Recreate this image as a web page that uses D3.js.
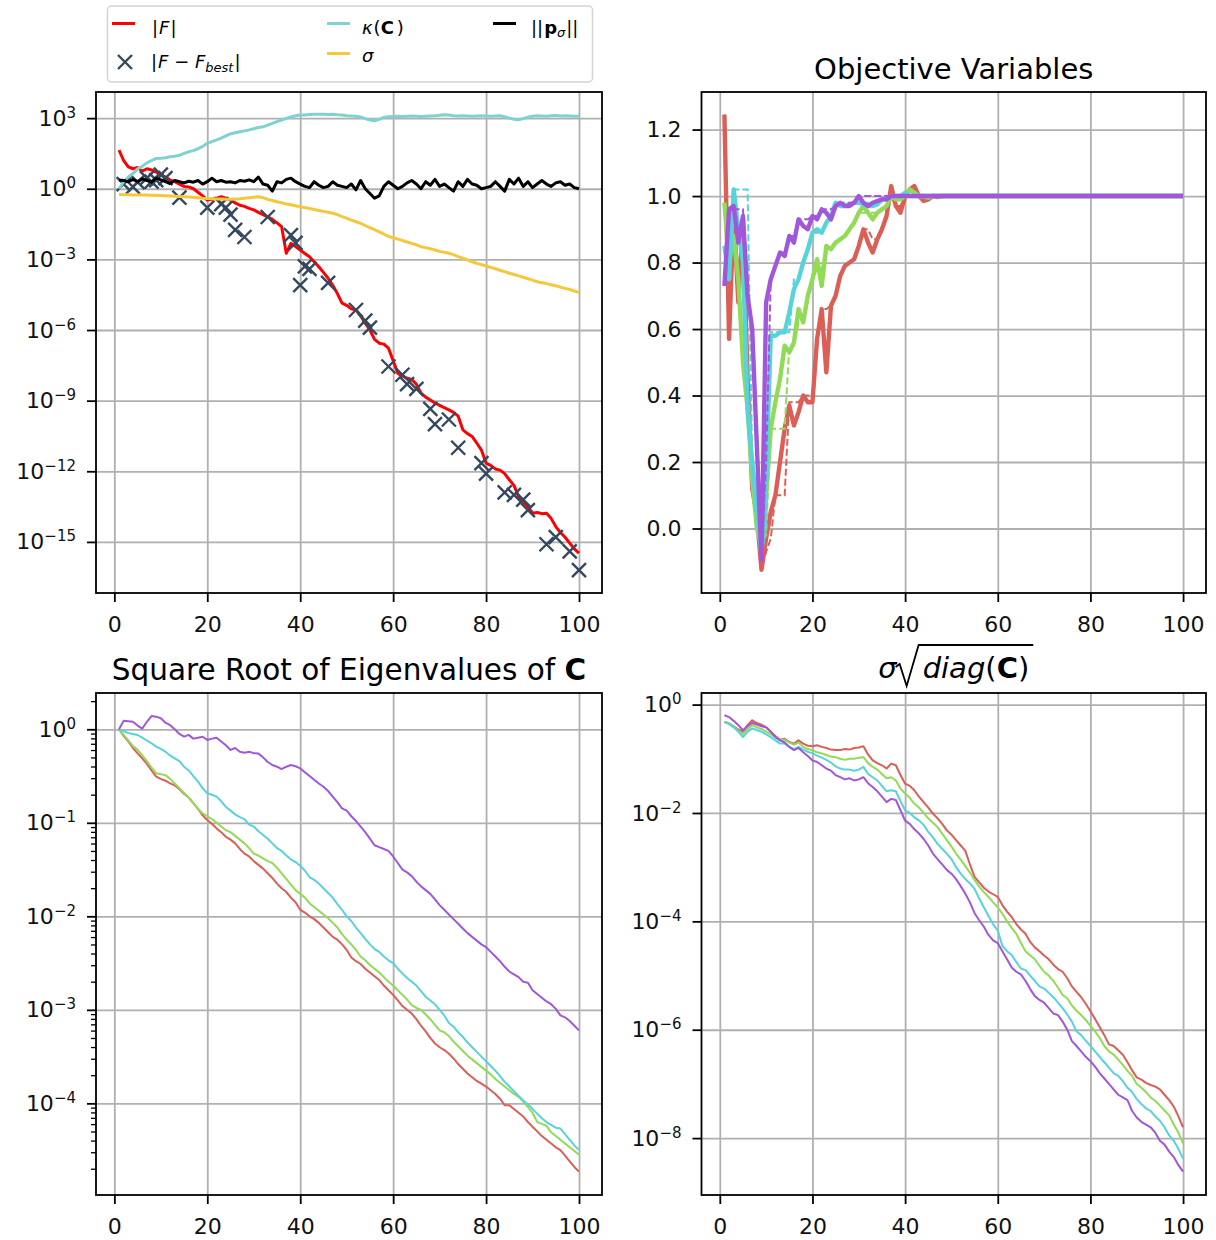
<!DOCTYPE html>
<html>
<head>
<meta charset="utf-8">
<script src="https://cdn.jsdelivr.net/npm/d3@7"></script>
<style>
  body { margin: 0; background: #fff; }
  text { font-family: "DejaVu Sans", sans-serif; }
</style>
</head>
<body>
<script>
// iterations run 1..100, every series below has one value per iteration
// log-scale panels keep log10 of the value
const xTicks = [0, 20, 40, 60, 80, 100];

// --- panel 1: fitness, condition number, step size, evolution path (log10)
const fAbs = [
  1.64, 1.2, 0.93, 0.85, 0.9, 0.75, 0.85, 0.8, 0.7, 0.6,
  0.5, 0.37, 0.3, 0.2, 0.1, 0.08, 0.0, -0.15, -0.3, -0.48,
  -0.45, -0.4, -0.34, -0.4, -0.48, -0.6, -0.7, -0.75, -0.83, -0.9,
  -1.0, -1.1, -1.19, -1.3, -1.45, -1.61, -2.74, -2.32, -2.45, -2.6,
  -2.75, -2.89, -3.1, -3.31, -3.55, -3.8, -4.1, -4.45, -4.86, -4.95,
  -5.1, -5.15, -5.4, -5.71, -6.0, -6.4, -6.56, -6.6, -6.77, -7.3,
  -7.84, -7.95, -8.05, -8.1, -8.3, -8.68, -8.85, -8.97, -9.1, -9.2,
  -9.3, -9.39, -9.5, -9.66, -10.24, -10.4, -10.52, -10.8, -11.1, -11.65,
  -11.75, -11.9, -11.95, -12.1, -12.36, -12.6, -13.07, -13.3, -13.5, -13.78,
  -13.75, -13.8, -13.78, -14.0, -14.35, -14.6, -14.8, -15.05, -15.3, -15.48
];
const bestIter = [2, 4, 5, 7, 8, 9, 10, 11, 14, 20, 23, 24, 25, 26, 28, 33, 38, 39, 40, 41, 42, 46,
  52, 54, 55, 59, 62, 63, 65, 68, 69, 72, 74, 79, 80, 84, 86, 88, 89, 93, 95, 98, 100];
const bestGap = [0.2, 0.08, 0.28, 0.45, 0.3, 0.37, 0.6, 0.45, -0.38, -0.8, -0.65, -0.8, -1.1, -1.75, -2.05,
  -1.2, -1.97, -2.3, -4.09, -3.3, -3.4, -4.0, -5.15, -5.6, -5.9, -7.55, -7.9, -8.3, -8.5,
  -9.35, -10.0, -9.8, -11.0, -11.65, -12.1, -12.9, -13.0, -13.2, -13.65, -15.1, -14.8, -15.4, -16.2];
const kappa = [
  0.0, 0.3, 0.5, 0.65, 0.85, 0.95, 1.1, 1.2, 1.29, 1.3,
  1.32, 1.36, 1.38, 1.42, 1.5, 1.57, 1.62, 1.7, 1.8, 1.93,
  2.0, 2.08, 2.15, 2.25, 2.33, 2.38, 2.42, 2.46, 2.5, 2.55,
  2.6, 2.63, 2.7, 2.78, 2.85, 2.92, 2.99, 3.05, 3.1, 3.13,
  3.13, 3.15, 3.16, 3.17, 3.16, 3.15, 3.16, 3.14, 3.13, 3.1,
  3.09, 3.08, 3.05, 2.98, 2.92, 2.89, 2.95, 3.03, 3.06, 3.07,
  3.08, 3.07, 3.08, 3.09, 3.08, 3.07, 3.08, 3.09, 3.1, 3.12,
  3.14, 3.13, 3.1, 3.09, 3.1, 3.09, 3.08, 3.09, 3.1, 3.09,
  3.08, 3.09, 3.1, 3.06, 3.0, 2.95, 2.93, 2.98, 3.04, 3.08,
  3.1, 3.09, 3.08, 3.1, 3.11, 3.09, 3.1, 3.09, 3.08, 3.08
];
const sigma = [
  -0.24, -0.25, -0.25, -0.26, -0.26, -0.27, -0.27, -0.28, -0.28, -0.29,
  -0.3, -0.31, -0.32, -0.33, -0.34, -0.35, -0.36, -0.38, -0.4, -0.41,
  -0.42, -0.43, -0.44, -0.45, -0.45, -0.43, -0.42, -0.4, -0.38, -0.36,
  -0.34, -0.38, -0.45, -0.5, -0.55, -0.6, -0.65, -0.68, -0.72, -0.76,
  -0.8, -0.84, -0.88, -0.92, -0.96, -1.0, -1.04, -1.1, -1.18, -1.25,
  -1.33, -1.4, -1.47, -1.56, -1.65, -1.74, -1.83, -1.93, -2.02, -2.08,
  -2.14, -2.2, -2.26, -2.32, -2.38, -2.46, -2.5, -2.55, -2.6, -2.66,
  -2.7, -2.74, -2.8, -2.88, -2.95, -3.02, -3.1, -3.17, -3.22, -3.28,
  -3.34, -3.4, -3.46, -3.52, -3.59, -3.64, -3.7, -3.76, -3.82, -3.88,
  -3.95, -3.99, -4.03, -4.08, -4.12, -4.18, -4.23, -4.28, -4.34, -4.4
];
const pSigma = [
  0.37, 0.35, 0.3, 0.4, 0.3, 0.42, 0.35, 0.28, 0.45, 0.38,
  0.3, 0.22, 0.35, 0.3, 0.25, 0.32, 0.28, 0.35, 0.2, 0.3,
  0.45, 0.3, 0.35, 0.28, 0.3, 0.25, 0.35, 0.32, 0.38, 0.3,
  0.5, 0.2, 0.15, -0.1, 0.3, 0.25, 0.4, 0.45, 0.3, 0.2,
  0.1, 0.05, 0.3, 0.15, 0.05, 0.1, 0.3, 0.15, 0.1, 0.05,
  0.2, -0.05, 0.35, 0.0, -0.2, -0.4, -0.3, 0.1, 0.3, 0.15,
  0.0, 0.1, 0.25, 0.35, 0.2, 0.0, 0.3, 0.15, 0.4, 0.1,
  0.2, 0.05, -0.1, 0.3, 0.1, 0.4, 0.2, 0.15, 0.0, 0.05,
  0.1, 0.3, 0.1, -0.1, 0.4, 0.2, 0.45, 0.1, 0.3, 0.05,
  0.2, 0.35, 0.2, 0.1, 0.25, 0.3, 0.15, 0.2, 0.05, 0.0
];

// --- panel 2: objective variables (linear), solid = mean, dashed = best
const settled = [
  1, 1, 1, 1, 1, 1, 1, 1, 1, 1, 1, 1, 1, 1, 1, 1, 1, 1, 1, 1, 1, 1, 1, 1, 1,
  1, 1, 1, 1, 1, 1, 1, 1, 1, 1, 1, 1, 1, 1, 1, 1, 1, 1, 1, 1, 1, 1, 1, 1, 1
];
const objR = [
  1.245, 0.57, 0.95, 0.68, 0.93, 0.45, 0.12, 0.04, -0.124, -0.03,
  0.05, 0.1, 0.2, 0.3, 0.37, 0.31, 0.35, 0.4, 0.38, 0.38,
  0.57, 0.66, 0.47, 0.67, 0.7, 0.76, 0.79, 0.8, 0.81, 0.85,
  0.9, 0.86, 0.83, 0.87, 0.9, 0.94, 1.03, 0.97, 0.95, 1.0,
  1.02, 1.03, 1.0, 0.985, 0.99, 1.0, 0.997, 1.0, 1.0, 1.0
].concat(settled);
const objG = [
  0.98, 0.8, 0.88, 0.75, 0.5, 0.36, 0.15, 0.0, -0.044, 0.1,
  0.3, 0.38, 0.45, 0.55, 0.53, 0.56, 0.66, 0.62, 0.7, 0.75,
  0.81, 0.73, 0.85, 0.84, 0.86, 0.87, 0.88, 0.9, 0.92, 0.95,
  0.97, 0.95, 0.93, 0.95, 0.96, 0.97, 1.0, 0.99, 0.99, 1.0,
  1.02, 1.01, 1.0, 1.0, 0.995, 1.0, 1.0, 1.0, 1.0, 1.0
].concat(settled);
const objC = [
  0.85, 0.75, 1.02, 0.9, 0.8, 0.36, 0.2, 0.05, -0.08, 0.15,
  0.58, 0.58, 0.59, 0.59, 0.65, 0.72, 0.75, 0.8, 0.84, 0.89,
  0.9, 0.89, 0.92, 0.94, 0.98, 0.97, 0.97, 0.975, 0.98, 0.98,
  0.975, 0.97, 0.97, 0.975, 0.99, 0.99, 1.0, 1.0, 1.0, 1.01,
  1.0, 1.0, 1.0, 1.0, 1.0, 1.0, 1.0, 1.0, 1.0, 1.0
].concat(settled);
const objP = [
  0.73, 0.96, 0.97, 0.86, 0.94, 0.7, 0.6, 0.25, -0.094, 0.68,
  0.75, 0.79, 0.83, 0.82, 0.88, 0.86, 0.93, 0.91, 0.9, 0.94,
  0.93, 0.96, 0.95, 0.93, 0.97, 0.98, 0.97, 0.97, 0.98, 1.0,
  0.98, 0.97, 0.98, 0.985, 0.99, 0.99, 1.0, 1.0, 1.0, 1.0,
  1.0, 1.0, 1.0, 1.0, 1.0, 1.0, 1.0, 1.0, 1.0, 1.0
].concat(settled);
const bestR = [
  1.245, 0.57, 0.95, 0.68, 0.93, 0.45, 0.12, 0.04, -0.124, -0.07,
  -0.03, 0.1, 0.1, 0.1, 0.38, 0.38, 0.38, 0.4, 0.4, 0.4,
  0.57, 0.66, 0.66, 0.67, 0.7, 0.76, 0.79, 0.8, 0.81, 0.85,
  0.9, 0.9, 0.87, 0.87, 0.9, 0.94, 1.0, 0.97, 0.97, 1.0,
  1.0, 1.0, 1.0, 1.0, 1.0, 1.0, 1.0, 1.0, 1.0, 1.0
].concat(settled);
const bestG = [
  0.98, 0.8, 0.88, 0.75, 0.5, 0.36, 0.15, 0.0, -0.044, -0.02,
  0.3, 0.3, 0.3, 0.3, 0.55, 0.55, 0.62, 0.62, 0.7, 0.75,
  0.78, 0.78, 0.85, 0.84, 0.86, 0.87, 0.88, 0.9, 0.92, 0.95,
  0.95, 0.95, 0.95, 0.95, 0.96, 0.97, 1.0, 0.99, 0.99, 1.0,
  1.0, 1.0, 1.0, 1.0, 1.0, 1.0, 1.0, 1.0, 1.0, 1.0
].concat(settled);
const bestC = [
  0.85, 0.85, 1.02, 1.02, 1.02, 1.02, 0.2, 0.05, -0.08, 0.0,
  0.59, 0.59, 0.59, 0.59, 0.59, 0.75, 0.75, 0.8, 0.84, 0.89,
  0.89, 0.89, 0.92, 0.94, 0.98, 0.97, 0.97, 0.975, 0.98, 0.98,
  0.98, 0.98, 0.97, 0.975, 0.99, 0.99, 1.0, 1.0, 1.0, 1.0,
  1.0, 1.0, 1.0, 1.0, 1.0, 1.0, 1.0, 1.0, 1.0, 1.0
].concat(settled);
const bestP = [
  0.73, 0.96, 0.96, 0.96, 0.96, 0.7, 0.6, 0.25, -0.094, 0.2,
  0.75, 0.79, 0.83, 0.83, 0.88, 0.88, 0.93, 0.93, 0.93, 0.94,
  0.94, 0.96, 0.96, 0.96, 0.97, 0.98, 0.98, 0.98, 0.98, 1.0,
  1.0, 1.0, 1.0, 1.0, 1.0, 1.0, 1.0, 1.0, 1.0, 1.0,
  1.0, 1.0, 1.0, 1.0, 1.0, 1.0, 1.0, 1.0, 1.0, 1.0
].concat(settled);

// --- panel 3: square root of eigenvalues of C (log10)
const eigR = [
  0, -0.07, -0.13, -0.2, -0.257, -0.31, -0.37, -0.44, -0.507, -0.53,
  -0.55, -0.578, -0.6, -0.64, -0.69, -0.73, -0.79, -0.85, -0.92, -0.97,
  -1.01, -1.06, -1.1, -1.15, -1.18, -1.22, -1.28, -1.33, -1.36, -1.41,
  -1.45, -1.49, -1.54, -1.59, -1.65, -1.7, -1.74, -1.8, -1.85, -1.93,
  -1.96, -2.0, -2.03, -2.07, -2.12, -2.17, -2.22, -2.25, -2.3, -2.36,
  -2.44, -2.48, -2.51, -2.56, -2.6, -2.64, -2.68, -2.74, -2.79, -2.84,
  -2.9, -2.96, -3.0, -3.04, -3.1, -3.17, -3.23, -3.3, -3.36, -3.4,
  -3.43, -3.47, -3.52, -3.58, -3.63, -3.68, -3.72, -3.76, -3.79, -3.82,
  -3.86, -3.9, -3.95, -4.02, -4.02, -4.06, -4.1, -4.14, -4.2, -4.25,
  -4.3, -4.35, -4.39, -4.43, -4.47, -4.5, -4.56, -4.62, -4.68, -4.73
];
const eigG = [
  0, -0.06, -0.12, -0.18, -0.22, -0.28, -0.34, -0.41, -0.47, -0.48,
  -0.49, -0.53, -0.58, -0.63, -0.68, -0.73, -0.79, -0.85, -0.9, -0.93,
  -0.96, -1.0, -1.04, -1.08, -1.1, -1.14, -1.18, -1.22, -1.27, -1.33,
  -1.35, -1.38, -1.41, -1.43, -1.48, -1.54, -1.6, -1.66, -1.72, -1.76,
  -1.8, -1.86, -1.9, -1.94, -1.98, -2.02, -2.07, -2.12, -2.19, -2.25,
  -2.3, -2.36, -2.43, -2.47, -2.52, -2.56, -2.6, -2.65, -2.7, -2.74,
  -2.79, -2.84, -2.89, -2.95, -2.98, -3.0, -3.05, -3.1, -3.16, -3.22,
  -3.24, -3.28, -3.34, -3.39, -3.44, -3.49, -3.53, -3.57, -3.61, -3.65,
  -3.69, -3.74, -3.78, -3.82, -3.86, -3.9, -3.93, -3.98, -4.04, -4.1,
  -4.2, -4.22, -4.24, -4.31, -4.35, -4.39, -4.43, -4.47, -4.51, -4.55
];
const eigC = [
  0, -0.02, -0.04, -0.05, -0.061, -0.09, -0.12, -0.15, -0.186, -0.21,
  -0.24, -0.28, -0.31, -0.34, -0.4, -0.44, -0.5, -0.56, -0.63, -0.684,
  -0.7, -0.72, -0.77, -0.83, -0.87, -0.91, -0.94, -0.96, -1.02, -1.04,
  -1.09, -1.13, -1.17, -1.22, -1.27, -1.3, -1.35, -1.39, -1.42, -1.46,
  -1.51, -1.58, -1.61, -1.65, -1.7, -1.75, -1.8, -1.87, -1.93, -2.0,
  -2.05, -2.12, -2.18, -2.24, -2.3, -2.35, -2.38, -2.43, -2.47, -2.5,
  -2.56, -2.61, -2.66, -2.7, -2.74, -2.8, -2.86, -2.9, -2.94, -3.0,
  -3.06, -3.14, -3.18, -3.24, -3.29, -3.35, -3.4, -3.45, -3.5, -3.55,
  -3.6, -3.65, -3.71, -3.77, -3.82, -3.87, -3.92, -3.97, -4.01, -4.06,
  -4.11, -4.16, -4.2, -4.23, -4.26, -4.27, -4.33, -4.39, -4.45, -4.5
];
const eigP = [
  0, 0.09, 0.085, 0.08, 0.04, 0.007, 0.08, 0.142, 0.135, 0.118,
  0.07, 0.044, 0.0, -0.05, -0.079, -0.06, -0.1, -0.09, -0.08, -0.114,
  -0.1, -0.09, -0.13, -0.17, -0.221, -0.2, -0.24, -0.25, -0.24, -0.255,
  -0.26, -0.3, -0.35, -0.382, -0.4, -0.425, -0.4, -0.382, -0.395, -0.418,
  -0.46, -0.5, -0.54, -0.58, -0.614, -0.66, -0.72, -0.78, -0.845, -0.87,
  -0.93, -0.98, -1.04, -1.1, -1.17, -1.24, -1.26, -1.28, -1.3, -1.36,
  -1.43, -1.5, -1.53, -1.57, -1.63, -1.68, -1.72, -1.76, -1.82, -1.88,
  -1.93, -1.98, -2.03, -2.08, -2.13, -2.18, -2.22, -2.26, -2.3, -2.33,
  -2.38, -2.43, -2.48, -2.54, -2.59, -2.62, -2.65, -2.7, -2.71, -2.79,
  -2.83, -2.87, -2.91, -2.94, -2.99, -3.06, -3.08, -3.12, -3.17, -3.22
];

// --- panel 4: sigma * sqrt(diag(C)) (log10)
const stdR = [
  -0.32, -0.35, -0.4, -0.46, -0.5, -0.38, -0.29, -0.34, -0.37, -0.42,
  -0.5, -0.58, -0.65, -0.63, -0.69, -0.72, -0.66, -0.72, -0.76, -0.77,
  -0.75, -0.78, -0.8, -0.83, -0.84, -0.84, -0.82, -0.83, -0.8, -0.79,
  -0.77, -0.92, -1.03, -1.08, -1.12, -1.18, -1.09, -1.12, -1.3, -1.46,
  -1.5, -1.58, -1.7, -1.8, -1.9, -2.01, -2.1, -2.2, -2.32, -2.4,
  -2.5, -2.6, -2.7, -2.95, -3.18, -3.28, -3.38, -3.45, -3.5, -3.55,
  -3.7, -3.82, -3.92, -4.05, -4.15, -4.23, -4.38, -4.48, -4.55, -4.63,
  -4.7, -4.8, -4.88, -4.93, -5.05, -5.2, -5.3, -5.4, -5.52, -5.66,
  -5.8, -5.95, -6.1, -6.27, -6.3, -6.38, -6.46, -6.6, -6.75, -6.88,
  -6.92, -6.98, -7.02, -7.05, -7.1, -7.2, -7.3, -7.42, -7.6, -7.8
];
const stdG = [
  -0.32, -0.34, -0.4, -0.48, -0.54, -0.45, -0.38, -0.42, -0.45, -0.5,
  -0.55, -0.6, -0.66, -0.65, -0.7, -0.74, -0.7, -0.78, -0.82, -0.84,
  -0.88, -0.9, -0.93, -0.96, -0.97, -1.0, -1.02, -1.0, -1.0, -0.98,
  -0.97, -1.08, -1.15, -1.2, -1.28, -1.36, -1.34, -1.4, -1.55, -1.64,
  -1.72, -1.83, -1.9, -2.0, -2.1, -2.18, -2.26, -2.38, -2.5, -2.62,
  -2.75, -2.86, -2.98, -3.1, -3.24, -3.36, -3.46, -3.55, -3.65, -3.74,
  -3.86, -4.0, -4.12, -4.23, -4.4, -4.55, -4.63, -4.7, -4.82, -4.93,
  -5.0, -5.1, -5.22, -5.36, -5.42, -5.55, -5.65, -5.73, -5.82, -5.93,
  -6.03, -6.15, -6.3, -6.4, -6.46, -6.55, -6.65, -6.76, -6.85, -7.0,
  -7.07, -7.15, -7.25, -7.31, -7.4, -7.49, -7.58, -7.75, -7.9, -8.1
];
const stdC = [
  -0.32, -0.36, -0.42, -0.5, -0.6, -0.5, -0.44, -0.47, -0.5, -0.55,
  -0.6, -0.66, -0.72, -0.72, -0.78, -0.82, -0.78, -0.83, -0.87, -0.9,
  -0.94, -0.98, -1.02, -1.07, -1.14, -1.18, -1.2, -1.2, -1.22, -1.2,
  -1.15, -1.28, -1.34, -1.4, -1.5, -1.6, -1.58, -1.6, -1.78, -1.95,
  -2.0, -2.08, -2.14, -2.22, -2.35, -2.45, -2.57, -2.66, -2.75, -2.85,
  -3.0, -3.12, -3.22, -3.3, -3.4, -3.58, -3.74, -3.9, -4.05, -4.17,
  -4.45, -4.55, -4.62, -4.75, -4.87, -4.9, -5.0, -5.1, -5.2, -5.24,
  -5.32, -5.4, -5.5, -5.6, -5.72, -5.85, -6.03, -6.1, -6.2, -6.3,
  -6.4, -6.5, -6.6, -6.7, -6.8, -6.85, -6.95, -7.07, -7.15, -7.28,
  -7.37, -7.45, -7.5, -7.6, -7.68, -7.8, -7.95, -8.05, -8.2, -8.38
];
const stdP = [
  -0.197, -0.23, -0.3, -0.38, -0.474, -0.4, -0.34, -0.37, -0.4, -0.42,
  -0.5, -0.6, -0.66, -0.7, -0.78, -0.84, -0.8, -0.88, -0.95, -1.03,
  -1.06, -1.12, -1.18, -1.22, -1.3, -1.34, -1.38, -1.36, -1.4, -1.38,
  -1.34, -1.45, -1.52, -1.6, -1.7, -1.8, -1.74, -1.76, -1.95, -2.14,
  -2.2, -2.3, -2.38, -2.48, -2.6, -2.75, -2.85, -2.95, -3.05, -3.12,
  -3.22, -3.35, -3.49, -3.65, -3.85, -3.98, -4.1, -4.25, -4.35, -4.4,
  -4.55, -4.7, -4.85, -4.93, -4.98, -5.1, -5.25, -5.38, -5.45, -5.5,
  -5.6, -5.7, -5.73, -5.85, -6.0, -6.21, -6.3, -6.4, -6.5, -6.58,
  -6.68, -6.8, -6.9, -7.0, -7.1, -7.2, -7.25, -7.3, -7.5, -7.62,
  -7.7, -7.75, -7.8, -7.9, -8.05, -8.12, -8.25, -8.35, -8.5, -8.62
];

const dimColors = ["#db5f57", "#91db57", "#57d3db", "#a157db"];

const svg = d3.select("body").append("svg")
    .attr("width", 1216)
    .attr("height", 1240);

svg.append("rect").attr("width", 1216).attr("height", 1240).attr("fill", "#fff");

let clipCount = 0;

function panel(box, y, yTicks, fmt) {
    const x = d3.scaleLinear().domain([-3.95, 104.95]).range([box.left, box.right]);
    const w = box.right - box.left, h = box.bottom - box.top;
    const g = svg.append("g");

    const grid = g.append("g");
    grid.append("g")
        .attr("transform", "translate(0," + box.bottom + ")")
        .call(d3.axisBottom(x).tickValues(xTicks).tickSize(-h).tickFormat(""));
    grid.append("g")
        .attr("transform", "translate(" + box.left + ",0)")
        .call(d3.axisLeft(y).tickValues(yTicks).tickSize(-w).tickFormat(""));
    grid.selectAll(".domain").remove();
    grid.selectAll("line").attr("stroke", "#b0b0b0").attr("stroke-width", 1.8);

    const id = "clip" + (clipCount++);
    svg.append("clipPath").attr("id", id)
        .append("rect")
        .attr("x", box.left).attr("y", box.top)
        .attr("width", w).attr("height", h);

    const plot = g.append("g").attr("clip-path", "url(#" + id + ")");
    return { x, y, g, plot, box, yTicks, fmt };
}

function frame(p, minor) {
    const { x, y, g, box } = p;
    const xa = g.append("g")
        .attr("transform", "translate(0," + box.bottom + ")")
        .call(d3.axisBottom(x).tickValues(xTicks).tickSize(9).tickPadding(14));
    const ya = g.append("g")
        .attr("transform", "translate(" + box.left + ",0)")
        .call(d3.axisLeft(y).tickValues(p.yTicks).tickSize(9).tickPadding(11).tickFormat(""));
    ya.selectAll(".tick text").each(p.fmt);
    const axes = [xa, ya];
    if (minor) {
        const ma = g.append("g")
            .attr("transform", "translate(" + box.left + ",0)")
            .call(d3.axisLeft(y).tickValues(minor).tickSize(5).tickFormat(""));
        ma.selectAll("line").attr("stroke-width", 1.3);
        ma.select(".domain").remove();
    }
    axes.forEach(a => {
        a.select(".domain").remove();
        a.attr("font-size", 22).attr("font-family", "DejaVu Sans");
        a.selectAll(".tick line").attr("stroke-width", 1.8);
        a.selectAll("text").attr("fill", "#111");
    });
    g.append("rect")
        .attr("x", box.left).attr("y", box.top)
        .attr("width", box.right - box.left).attr("height", box.bottom - box.top)
        .attr("fill", "none").attr("stroke", "#000").attr("stroke-width", 1.8);
}

function logLabel(d) {
    const e = Math.round(Math.log10(d));
    const t = d3.select(this).text("");
    t.append("tspan").text("10");
    t.append("tspan").attr("dy", -8).attr("font-size", 15).text(e < 0 ? "\u2212" + (-e) : String(e));
}

function decLabel(d) {
    d3.select(this).text(d3.format(".1f")(d));
}

function logLine(p, vals, color, width) {
    p.plot.append("path")
        .datum(vals)
        .attr("fill", "none")
        .attr("stroke", color)
        .attr("stroke-width", width)
        .attr("stroke-linejoin", "round")
        .attr("d", d3.line().x((d, i) => p.x(i + 1)).y(d => p.y(Math.pow(10, d))));
}

// ---------- panel 1
const box1 = { left: 96, right: 602, top: 92, bottom: 593 };
const y1 = d3.scaleLog().domain([Math.pow(10, -17.17), Math.pow(10, 4.11)]).range([box1.bottom, box1.top]);
const p1 = panel(box1, y1, [1e3, 1, 1e-3, 1e-6, 1e-9, 1e-12, 1e-15], logLabel);

logLine(p1, fAbs, "#ff0000", 3);
p1.plot.selectAll(".cross")
    .data(bestIter.map((it, i) => [it, bestGap[i]]))
    .enter().append("path")
    .attr("class", "cross")
    .attr("transform", d => "translate(" + p1.x(d[0]) + "," + p1.y(Math.pow(10, d[1])) + ")")
    .attr("d", "M-7,-7L7,7M-7,7L7,-7")
    .attr("stroke", "#34495e")
    .attr("stroke-width", 2.4);
logLine(p1, kappa, "#80d2d2", 3);
logLine(p1, sigma, "#f5c83c", 3);
logLine(p1, pSigma, "#000000", 3);
frame(p1);

// legend
const legend = svg.append("g").attr("font-size", 18);
legend.append("rect")
    .attr("x", 107.5).attr("y", 6)
    .attr("width", 485).attr("height", 76)
    .attr("rx", 4)
    .attr("fill", "#fff").attr("fill-opacity", 0.8)
    .attr("stroke", "#d4d4d4").attr("stroke-width", 1.5);

function legLine(x, y, color) {
    legend.append("line")
        .attr("x1", x).attr("x2", x + 23)
        .attr("y1", y).attr("y2", y)
        .attr("stroke", color).attr("stroke-width", 3);
}
legLine(112, 23.5, "#ff0000");
legLine(327, 23.5, "#80d2d2");
legLine(327, 53.5, "#f5c83c");
legLine(493, 23.5, "#000000");
legend.append("path")
    .attr("d", "M118,55L132,69M118,69L132,55")
    .attr("stroke", "#34495e").attr("stroke-width", 2.4);

let lt = legend.append("text").attr("x", 152).attr("y", 34);
lt.append("tspan").text("|");
lt.append("tspan").attr("dx", 1).attr("font-style", "italic").text("F");
lt.append("tspan").attr("dx", 1).text("|");

lt = legend.append("text").attr("x", 151).attr("y", 68);
lt.append("tspan").text("|");
lt.append("tspan").attr("dx", 1).attr("font-style", "italic").text("F");
lt.append("tspan").text(" \u2212 ");
lt.append("tspan").attr("font-style", "italic").text("F");
lt.append("tspan").attr("font-style", "italic").attr("font-size", 13).attr("dy", 4).text("best");
lt.append("tspan").attr("dx", 1).attr("dy", -4).text("|");

lt = legend.append("text").attr("x", 362).attr("y", 34);
lt.append("tspan").attr("font-style", "italic").text("\u03ba");
lt.append("tspan").attr("dx", 1).text("(");
lt.append("tspan").attr("font-weight", "bold").text("C");
lt.append("tspan").attr("dx", 3).text(")");

legend.append("text").attr("x", 362).attr("y", 62).attr("font-style", "italic").text("\u03c3");

lt = legend.append("text").attr("x", 531).attr("y", 34);
lt.append("tspan").text("||");
lt.append("tspan").attr("dx", 1).attr("font-weight", "bold").text("p");
lt.append("tspan").attr("font-style", "italic").attr("font-size", 13).attr("dy", 3).text("\u03c3");
lt.append("tspan").attr("dx", 1).attr("dy", -3).text("||");

// ---------- panel 2
const box2 = { left: 701.5, right: 1206, top: 92, bottom: 593 };
const y2 = d3.scaleLinear().domain([-0.194, 1.313]).range([box2.bottom, box2.top]);
const p2 = panel(box2, y2, [0, 0.2, 0.4, 0.6, 0.8, 1.0, 1.2], decLabel);
const objMean = [objR, objG, objC, objP];
const objBest = [bestR, bestG, bestC, bestP];
const linLine = d3.line().x((d, i) => p2.x(i + 1)).y(d => p2.y(d));
objMean.forEach((vals, k) => {
    p2.plot.append("path").datum(vals)
        .attr("fill", "none").attr("stroke", dimColors[k])
        .attr("stroke-width", 4.4).attr("stroke-linejoin", "round")
        .attr("d", linLine);
    p2.plot.append("path").datum(objBest[k])
        .attr("fill", "none").attr("stroke", dimColors[k])
        .attr("stroke-width", 2).attr("stroke-dasharray", "7,3")
        .attr("d", linLine);
});
frame(p2);
svg.append("text")
    .attr("x", (box2.left + box2.right) / 2).attr("y", 79)
    .attr("text-anchor", "middle").attr("font-size", 29)
    .text("Objective Variables");

// ---------- panel 3
const box3 = { left: 96, right: 602, top: 693, bottom: 1195 };
const y3 = d3.scaleLog().domain([Math.pow(10, -4.98), Math.pow(10, 0.388)]).range([box3.bottom, box3.top]);
const p3 = panel(box3, y3, [1, 1e-1, 1e-2, 1e-3, 1e-4], logLabel);
[eigR, eigG, eigC, eigP].forEach((vals, k) => logLine(p3, vals, dimColors[k], 2));
const minor3 = [];
[-5, -4, -3, -2, -1, 0].forEach(e => {
    for (let m = 2; m <= 9; m++) {
        const v = m * Math.pow(10, e);
        if (v > y3.domain()[0] && v < y3.domain()[1]) minor3.push(v);
    }
});
frame(p3, minor3);
lt = svg.append("text")
    .attr("x", (box3.left + box3.right) / 2).attr("y", 680)
    .attr("text-anchor", "middle").attr("font-size", 29.5);
lt.append("tspan").text("Square Root of Eigenvalues of ");
lt.append("tspan").attr("font-weight", "bold").text("C");

// ---------- panel 4
const box4 = { left: 701.5, right: 1206, top: 693, bottom: 1195 };
const y4 = d3.scaleLog().domain([Math.pow(10, -9.05), Math.pow(10, 0.214)]).range([box4.bottom, box4.top]);
const p4 = panel(box4, y4, [1, 1e-2, 1e-4, 1e-6, 1e-8], logLabel);
[stdR, stdG, stdC, stdP].forEach((vals, k) => logLine(p4, vals, dimColors[k], 2));
frame(p4);

const t4 = svg.append("text")
    .attr("x", (box4.left + box4.right) / 2).attr("y", 678)
    .attr("text-anchor", "middle").attr("font-size", 29);
t4.append("tspan").attr("font-style", "italic").text("\u03c3");
t4.append("tspan").attr("dx", 26).attr("font-style", "italic").text("diag");
t4.append("tspan").text("(");
t4.append("tspan").attr("font-weight", "bold").text("C");
t4.append("tspan").text(")");
const tn = t4.node();
const r0 = tn.getStartPositionOfChar(1).x;
const r1 = tn.getEndPositionOfChar(7).x;
svg.append("path")
    .attr("d", "M" + (r0 - 27) + ",667L" + (r0 - 23) + ",664L" + (r0 - 16) + ",686L" + (r0 - 4) + ",645L" + (r1 + 4) + ",645")
    .attr("fill", "none").attr("stroke", "#000").attr("stroke-width", 1.8);
</script>
</body>
</html>
